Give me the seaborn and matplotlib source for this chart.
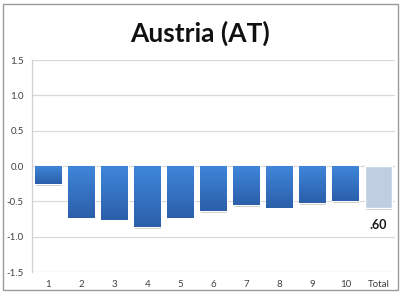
import matplotlib
matplotlib.use("Agg")
import matplotlib.pyplot as plt
import seaborn as sns
import numpy as np
import pandas as pd
from matplotlib.colors import LinearSegmentedColormap
from matplotlib.patches import Rectangle

# data
categories = ["1", "2", "3", "4", "5", "6", "7", "8", "9", "10", "Total"]
values = [-0.26, -0.73, -0.76, -0.86, -0.73, -0.64, -0.55, -0.59, -0.53, -0.50, -0.60]
total_label = ".60"

df = pd.DataFrame({"cat": categories, "val": values})

sns.set_style("white")
plt.rcParams["font.family"] = ["Lato", "DejaVu Sans"]

fig = plt.figure(figsize=(4.01, 2.95), dpi=100)
fig.patches.append(Rectangle((3 / 401, 1 - 290 / 295), 395 / 401, 286 / 295,
                             transform=fig.transFigure, fill=False,
                             edgecolor="#9a9a9a", linewidth=1.0))
ax = fig.add_axes([32 / 401, 1 - 272 / 295, 363 / 401, 212 / 295])

colors = ["#3570c0"] * 10 + ["#b9cde5"]
sns.barplot(data=df, x="cat", y="val", hue="cat", palette=colors, legend=False,
            width=0.79, ax=ax, zorder=3)

# gradient + soft shadow on the blue bars
blue = LinearSegmentedColormap.from_list("b", ["#3f86da", "#2b5faa"])
for i, p in enumerate(ax.patches):
    x0, w = p.get_x(), p.get_width()
    y0, h = p.get_y(), p.get_height()
    top, bot = max(y0, y0 + h), min(y0, y0 + h)
    sh = Rectangle((x0 + 0.02, bot - 0.025), w, top - bot, color="#c8c8c8",
                   zorder=2, linewidth=0)
    ax.add_patch(sh)
    if i < 10:
        grad = np.linspace(0, 1, 100).reshape(-1, 1)
        im = ax.imshow(grad, cmap=blue, aspect="auto",
                       extent=(x0, x0 + w, bot, top), zorder=4)
        im.set_clip_path(p)

ax.set_xlim(-0.5, len(categories) - 0.5)
ax.set_ylim(-1.5, 1.5)
ax.set_yticks(np.arange(-1.5, 1.51, 0.5))
ax.set_yticklabels([f"{v:.1f}" for v in np.arange(-1.5, 1.51, 0.5)])
ax.yaxis.grid(True, color="#d9d9d9", linewidth=0.9, zorder=0)
ax.set_axisbelow(True)
ax.tick_params(axis="both", labelsize=7, colors="#404040", length=0, pad=6)
ax.set_xlabel("")
ax.set_ylabel("")
for s in ["top", "right", "bottom"]:
    ax.spines[s].set_visible(False)
ax.spines["left"].set_color("#d0d0d0")
ax.spines["left"].set_linewidth(0.9)

ax.text(10, values[-1] - 0.15, total_label, ha="center", va="top",
        fontsize=9, fontweight="bold", color="#1a1a1a")

fig.text(0.5, 1 - 33 / 295, "Austria (AT)", ha="center", va="center",
         fontsize=19, fontweight="bold", color="#111111")

fig.savefig("out.png", dpi=100)
